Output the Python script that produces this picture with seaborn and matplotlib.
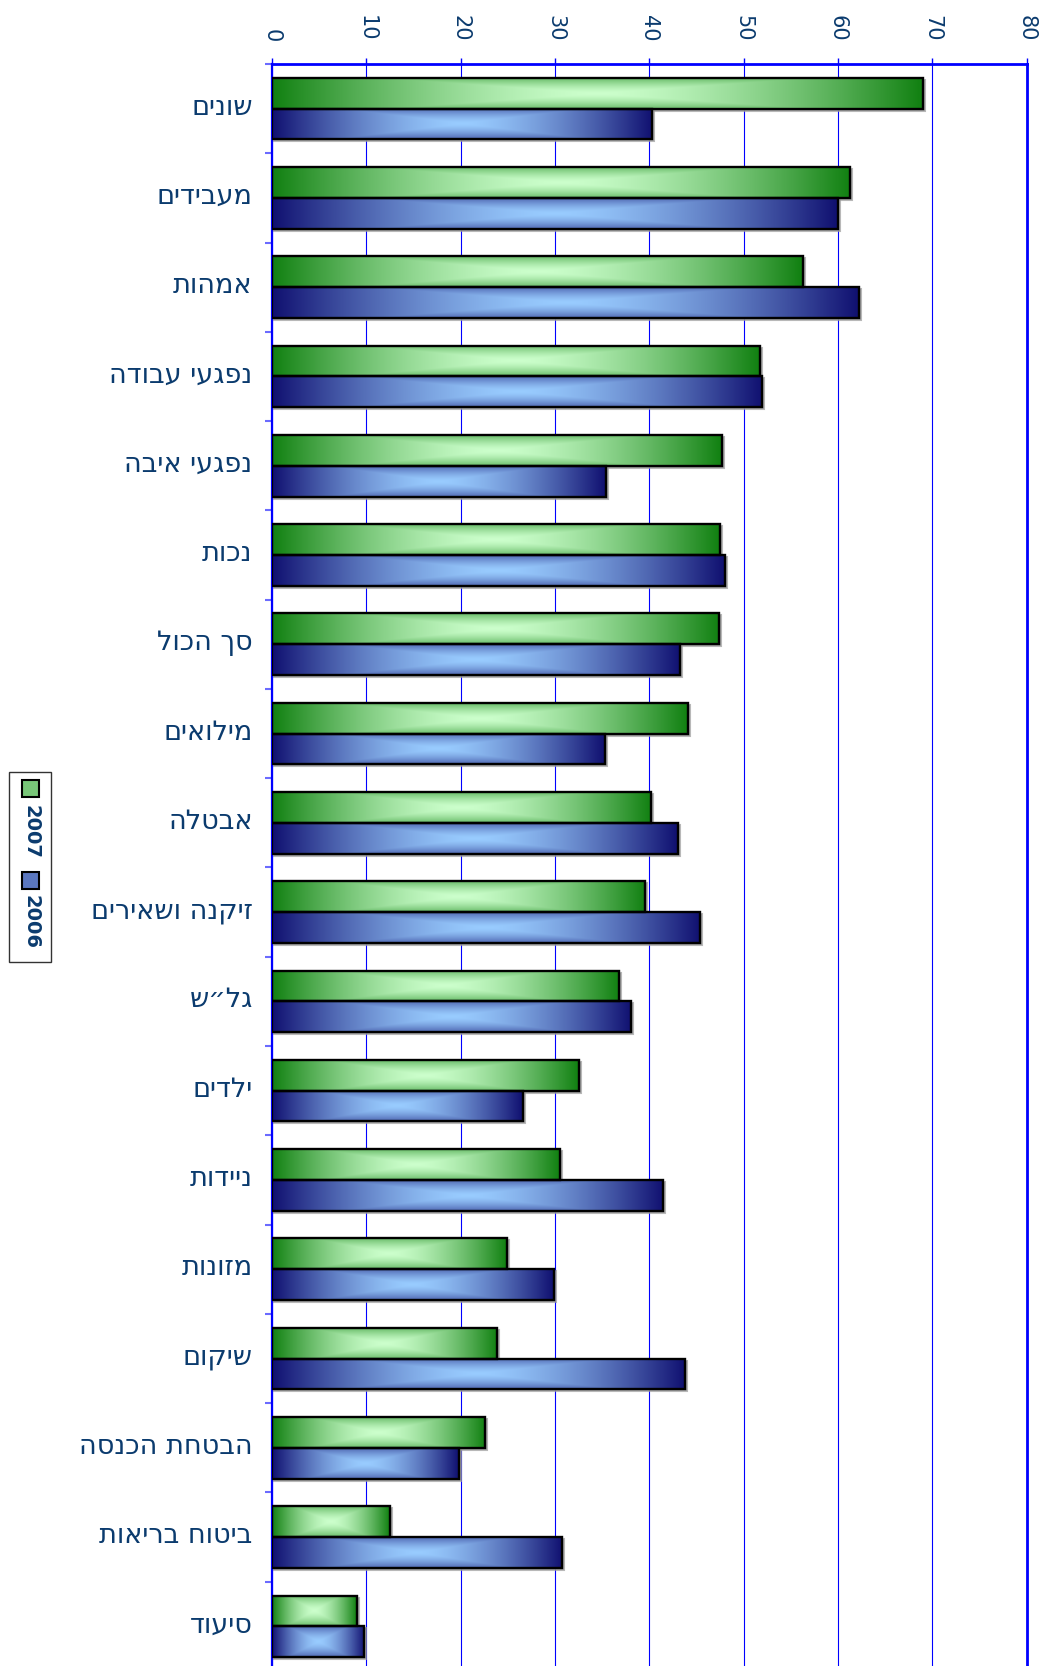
import numpy as np
import pandas as pd
import matplotlib
matplotlib.use("Agg")
import matplotlib.pyplot as plt
import matplotlib.patches as mpatches
from matplotlib.transforms import ScaledTranslation
from matplotlib.colors import to_rgb
import seaborn as sns

# ---- data -------------------------------------------------------------
categories = ['שונים', 'מעבידים', 'אמהות', 'נפגעי עבודה', 'נפגעי איבה', 'נכות',
              'סך הכול', 'מילואים', 'אבטלה', 'זיקנה ושאירים', 'גל״ש', 'ילדים',
              'ניידות', 'מזונות', 'שיקום', 'הבטחת הכנסה', 'ביטוח בריאות', 'סיעוד']
values_2007 = [69.0, 61.3, 56.3, 51.7, 47.7, 47.5, 47.4, 44.1, 40.2, 39.6,
               36.8, 32.5, 30.5, 24.9, 23.9, 22.6, 12.5, 9.0]
values_2006 = [40.3, 60.0, 62.2, 52.0, 35.4, 48.0, 43.3, 35.3, 43.0, 45.4,
               38.1, 26.6, 41.5, 29.9, 43.8, 19.8, 30.8, 9.8]
years = ['2007', '2006']
x_ticks = [0, 10, 20, 30, 40, 50, 60, 70, 80]

df = pd.DataFrame({
    'category': categories * 2,
    'year': ['2007'] * len(categories) + ['2006'] * len(categories),
    'value': values_2007 + values_2006,
})

# ---- style ------------------------------------------------------------
sns.set_style('white')
plt.rcParams['font.family'] = ['DejaVu Sans']

NAVY_TEXT = '#0B3B6E'
AXIS_BLUE = '#0000FF'
grad = {
    '2007': (to_rgb('#118011'), to_rgb('#CCFFCC')),   # dark edge, light centre
    '2006': (to_rgb('#101070'), to_rgb('#99CCFF')),
}
palette = {'2007': '#118011', '2006': '#101070'}


def rtl(s):
    """Hebrew strings in visual (left-to-right) order for rendering."""
    return s[::-1]


fig = plt.figure(figsize=(10.45, 16.66), dpi=100)
ax = fig.add_axes([0.2603, -0.003, 0.722, 0.9646])

sns.barplot(data=df, y='category', x='value', hue='year', hue_order=years,
            order=categories, orient='h', width=0.69, palette=palette,
            saturation=1, dodge=True, legend=False, ax=ax, zorder=1)

# ---- gradient fill for each bar ---------------------------------------
def gradient_image(dark, light, nx=300, ny=60):
    u = np.abs(np.linspace(-1, 1, nx))[None, :]
    v = np.abs(np.linspace(-1, 1, ny))[:, None]
    t = np.maximum(u, 0.65 * v) ** 1.5
    dark = np.array(dark)[None, None, :]
    light = np.array(light)[None, None, :]
    return light * (1 - t[..., None]) + dark * t[..., None]

shadow_offset = ScaledTranslation(2 / 100, -2 / 100, fig.dpi_scale_trans)
for year, container in zip(years, ax.containers):
    dark, light = grad[year]
    img = gradient_image(dark, light)
    for p in container.patches:
        x0, y0, w, h = p.get_x(), p.get_y(), p.get_width(), p.get_height()
        # soft drop shadow
        sh = mpatches.Rectangle((x0, y0), w, h, facecolor='#9a9a9a',
                                edgecolor='#9a9a9a', lw=1.5, alpha=0.7, zorder=1.5,
                                transform=ax.transData + shadow_offset)
        ax.add_patch(sh)
        ax.imshow(img, extent=[x0, x0 + w, y0 + h, y0],
                  aspect='auto', interpolation='bilinear', zorder=2)
        p.set_facecolor('none')
        p.set_edgecolor('black')
        p.set_linewidth(1.7)
        p.set_zorder(3)

# ---- axes -------------------------------------------------------------
ax.set_xlim(0, 80)
ax.set_ylim(len(categories) - 0.5, -0.5)
ax.set_xlabel('')
ax.set_ylabel('')

ax.xaxis.tick_top()
ax.set_xticks(x_ticks)
ax.set_xticklabels([str(t) for t in x_ticks], rotation=-90, fontsize=15,
                   color=NAVY_TEXT)
ax.tick_params(axis='x', top=True, bottom=False, length=4, width=1,
               color=AXIS_BLUE, pad=12)

ax.set_yticks(range(len(categories)))
ax.set_yticklabels([rtl(c) for c in categories], fontsize=19.5, color=NAVY_TEXT)
ax.tick_params(axis='y', which='major', length=0, pad=14)
lift = ScaledTranslation(0, 4 / 100, fig.dpi_scale_trans)
for lbl in ax.get_yticklabels():
    lbl.set_transform(lbl.get_transform() + lift)
ax.set_yticks(np.arange(-0.5, len(categories), 1), minor=True)
ax.tick_params(axis='y', which='minor', length=5, width=1.5, color='#6b6bff',
               left=True)

ax.grid(axis='x', color=AXIS_BLUE, lw=0.8)
ax.grid(axis='y', visible=False)
ax.set_axisbelow(True)

for side, lw in [('left', 1.6), ('top', 2.0), ('right', 2.0)]:
    ax.spines[side].set_visible(True)
    ax.spines[side].set_color(AXIS_BLUE)
    ax.spines[side].set_linewidth(lw)
ax.spines['bottom'].set_visible(False)

# ---- legend (vertical, rotated text) ----------------------------------
W, H = 1045, 1666
def fx(px):
    return px / W
def fy(py):
    return 1 - py / H

fig.patches.append(mpatches.Rectangle((fx(9), fy(962)), fx(42), 190 / H,
                                      transform=fig.transFigure, facecolor='white',
                                      edgecolor='#333333', lw=1.0))
for year, sq_y, txt_y in [('2007', 788.5, 831.5), ('2006', 880, 922)]:
    dark, light = grad[year]
    mix = tuple(0.45 * d + 0.55 * l for d, l in zip(dark, light))
    fig.patches.append(mpatches.Rectangle((fx(22), fy(sq_y + 8.5)), fx(17), 17 / H,
                                          transform=fig.transFigure, facecolor=mix,
                                          edgecolor='black', lw=1.5))
    fig.text(fx(31), fy(txt_y), year, rotation=-90, fontsize=14, fontweight='bold',
             color=NAVY_TEXT, ha='center', va='center')

fig.savefig('out.png', dpi=100)
